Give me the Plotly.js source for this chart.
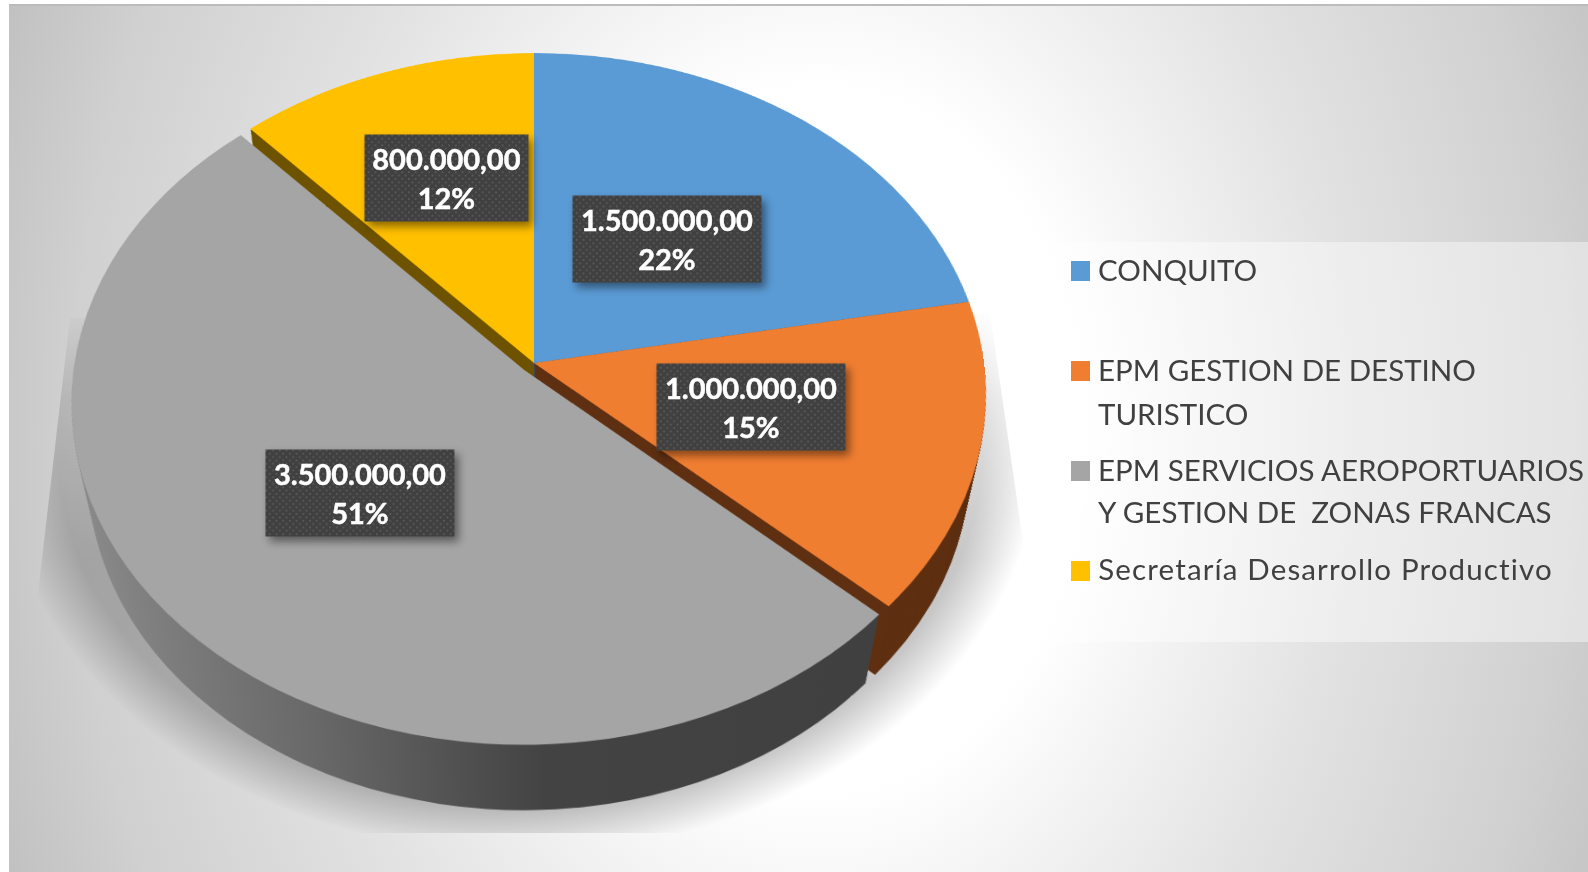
<!DOCTYPE html>
<html><head><meta charset="utf-8">
<script src="https://cdn.plot.ly/plotly-3.0.1.min.js"></script>
<style>
html,body{margin:0;padding:0;width:1588px;height:872px;overflow:hidden;background:#fff}
#panel{position:absolute;left:9px;top:4px;width:1579px;height:868px;border-top:2px solid #bcbcbc;box-sizing:border-box;
 background:radial-gradient(ellipse 883px 1175px at 811px 434px,#ffffff 0%,#ffffff 30%,#f3f3f3 42%,#e2e2e2 60%,#d0d0d0 85%,#c0c0c0 100%)}
#shadow{position:absolute;left:0;top:0;width:1588px;height:872px;
 background:radial-gradient(ellipse 520px 409px at 520px 445px,rgba(0,0,0,.22) 0%,rgba(0,0,0,.22) 89%,rgba(0,0,0,.10) 95%,rgba(0,0,0,0) 100%);
 clip-path:polygon(70px 318px,990px 313px,1024px 548px,1300px 600px,1300px 833px,0 833px,0 620px,38px 593px);
 -webkit-mask-image:linear-gradient(to bottom,transparent 300px,rgba(0,0,0,.55) 400px,#000 560px);
 mask-image:linear-gradient(to bottom,transparent 300px,rgba(0,0,0,.55) 400px,#000 560px)}
#pie{position:absolute;left:-66px;top:-237px;width:1200px;height:1200px;transform-origin:50% 50%}
#over{position:absolute;left:0;top:0;width:1588px;height:872px}
</style></head>
<body>
<div id="panel"></div><div id="shadow"></div><div id="pie"></div><div id="over"></div>
<script>
const categories = ["CONQUITO","EPM GESTION DE DESTINO<br>TURISTICO","EPM SERVICIOS AEROPORTUARIOS<br>Y GESTION DE  ZONAS FRANCAS","Secretaría Desarrollo Productivo"];
const values = [1500000,1000000,3500000,800000];
const topColors = ["#5B9BD5","#F07E31","#A5A5A5","#FFC000"];
const wallColors = ["#2f5578","#5F3012","#404040","#6E5300"];
const pulls = [0,0,0.03,0];

// layout (pixels of the 1588x872 page)
const R = 450, D = 1200, LAYERS = 64;
const persp = {by:0.7524, k:0.0925};
const wallScale = 0.055, wallDrop = 0.212;
const labelCenters = [[667,239],[751,407],[360,492.5],[446.5,178]];
const labelWidths = [188,188,188,163];
const legendLineY = [[269],[369,413],[469,511.5],[568]];
const legendSquareY = [271,371,471,571];

const maxPull = Math.max(...pulls);
function pieTrace(t, colors){
  const s = 1 - wallScale*t, d = wallDrop*t;
  const half = s*R*(1+maxPull)/D;
  const cy = 0.5 - d*R/D;
  return {type:'pie', values:values, labels:categories, sort:false, direction:'clockwise', rotation:0,
    pull:pulls, textinfo:'none', hoverinfo:'skip', showlegend:false,
    marker:{colors:colors, line:{width:0}},
    domain:{x:[0.5-half,0.5+half], y:[cy-half,cy+half]}};
}
const traces = [];
for(let i=LAYERS;i>=1;i--) traces.push(pieTrace(i/LAYERS, wallColors));
traces.push(pieTrace(0, topColors));

const pieDiv = document.getElementById('pie');
pieDiv.style.transform = `matrix3d(1,0,0,0, 0,${persp.by},0,${-persp.k/R}, 0,0,1,0, 0,0,0,1)`;

const total = values.reduce((a,b)=>a+b,0);
const fmt = v => v.toFixed(2).replace('.',',').replace(/\B(?=(\d{3})+(?!\d))/g,'.');
const annos = [], shapes = [];
values.forEach((v,i)=>{
  annos.push({xref:'paper',yref:'paper',x:labelCenters[i][0]/1588,y:1-labelCenters[i][1]/872,showarrow:false,
    xanchor:'center',yanchor:'middle',width:labelWidths[i],height:86,bgcolor:'#404040',borderpad:0,
    text:fmt(v)+'<br>'+Math.round(v/total*100)+'%',align:'center',valign:'middle',
    font:{family:'Lato',size:29,color:'#ffffff',weight:700}});
});
shapes.push({type:'rect',xref:'paper',yref:'paper',x0:1054/1588,x1:1,y0:1-642/872,y1:1-242/872,line:{width:0},fillcolor:'rgba(255,255,255,0.42)',layer:'below'});
categories.forEach((c,i)=>{
  const yy = legendSquareY[i];
  shapes.push({type:'rect',xref:'paper',yref:'paper',x0:1071/1588,x1:1090/1588,y0:1-(yy+10)/872,y1:1-(yy-10)/872,line:{width:0},fillcolor:topColors[i]});
  c.split('<br>').forEach((line,j)=>{
    annos.push({xref:'paper',yref:'paper',x:1098/1588,y:1-legendLineY[i][j]/872,showarrow:false,xanchor:'left',yanchor:'middle',
      text:line.replace(/  /g,'&nbsp; '),font:{family:'Lato',size:29.5,color:'#404040'},borderpad:0,borderwidth:0});
  });
});

const base = {paper_bgcolor:'rgba(0,0,0,0)',plot_bgcolor:'rgba(0,0,0,0)',margin:{l:0,r:0,t:0,b:0},showlegend:false};
Plotly.newPlot(pieDiv, traces, Object.assign({},base,{width:D,height:D}), {staticPlot:true,displayModeBar:false}).then(()=>{
  const svg = pieDiv.querySelector('svg.main-svg');
  const ns = 'http://www.w3.org/2000/svg';
  const defs = document.createElementNS(ns,'defs');
  defs.innerHTML = '<linearGradient id="wallGrad" x1="0" y1="0" x2="1" y2="0">'+
    '<stop offset="0" stop-color="#8c8c8c"/><stop offset="0.33" stop-color="#686868"/><stop offset="0.6" stop-color="#434343"/><stop offset="1" stop-color="#404040"/></linearGradient>';
  svg.insertBefore(defs, svg.firstChild);
  const tr = pieDiv.querySelectorAll('.pielayer .trace');
  tr.forEach((g,i)=>{
    if(i===tr.length-1) return;
    const p = g.querySelectorAll('g.slice path.surface');
    if(p[2]) p[2].style.fill='url(#wallGrad)';
  });
});

Plotly.newPlot('over', [], Object.assign({},base,{width:1588,height:872,annotations:annos,shapes:shapes,
  xaxis:{visible:false},yaxis:{visible:false}}), {staticPlot:true,displayModeBar:false}).then(()=>{
  const div = document.getElementById('over');
  const svg = div.querySelector('svg.main-svg');
  const ns = 'http://www.w3.org/2000/svg';
  const defs = document.createElementNS(ns,'defs');
  defs.innerHTML = '<pattern id="dots" width="6.7" height="6.7" patternUnits="userSpaceOnUse">'+
    '<rect width="6.7" height="6.7" fill="#404040"/><rect x="0.6" y="0.6" width="1.6" height="1.6" fill="#606060"/><rect x="3.95" y="3.95" width="1.6" height="1.6" fill="#606060"/></pattern>';
  svg.insertBefore(defs, svg.firstChild);
  div.querySelectorAll('.annotation').forEach((a,i)=>{
    const t = a.querySelector('text');
    if(i<values.length){
      const r = a.querySelector('rect.bg');
      if(r){ r.style.fill='url(#dots)'; r.style.filter='drop-shadow(4px 5px 4px rgba(0,0,0,.45))'; }
      if(t){
        t.style.stroke='#ffffff'; t.style.strokeWidth='0.5px';
        const ls = t.querySelectorAll('tspan.line');
        if(ls[1]){ ls[1].setAttribute('dy','39px'); t.style.transform='translateY(-1px)'; }
      }
    } else if(t && t.textContent.startsWith('Secretar')){
      t.style.letterSpacing='1.14px';
      t.style.transform='translateX(18.3px)';
    }
  });
});
</script>
</body></html>
